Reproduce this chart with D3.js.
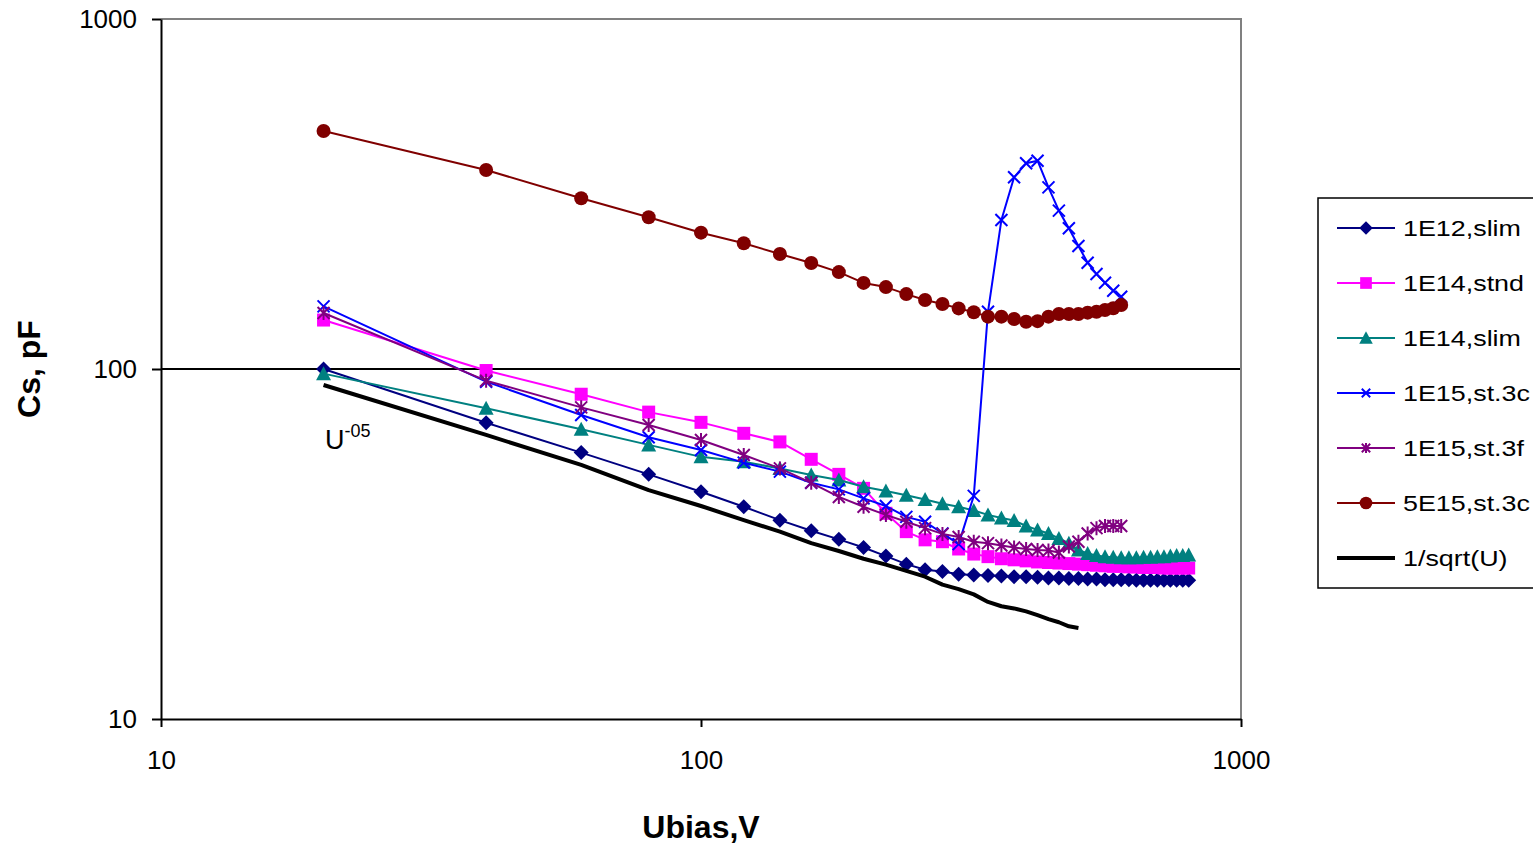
<!DOCTYPE html>
<html>
<head>
<meta charset="utf-8">
<script src="https://cdn.jsdelivr.net/npm/d3@7"></script>
<style>
  body { margin: 0; background: #fff; }
  svg { display: block; font-family: "Liberation Sans", Arial, sans-serif; }
</style>
</head>
<body>
<svg id="chart" width="1533" height="845"></svg>
<script>
// bias voltages, 20 V steps
const uLong = [20, 40, 60, 80, 100, 120, 140, 160, 180, 200, 220, 240, 260, 280, 300, 320, 340, 360, 380, 400,
               420, 440, 460, 480, 500, 520, 540, 560, 580, 600, 620, 640, 660, 680, 700, 720, 740, 760, 780, 800]
const uMid  = [20, 40, 60, 80, 100, 120, 140, 160, 180, 200, 220, 240, 260, 280, 300, 320, 340, 360, 380, 400,
               420, 440, 460, 480, 500, 520, 540, 560, 580, 600]
const uShort = [20, 40, 60, 80, 100, 120, 140, 160, 180, 200, 220, 240, 260, 280, 300, 320, 340, 360, 380, 400,
                420, 440, 460, 480, 500]

const cs1E12slim = [100, 70.2, 57.7, 50.0, 44.6, 40.4, 37.0, 34.5, 32.6, 30.9, 29.2, 27.7, 26.7, 26.4, 25.9, 25.8, 25.7, 25.6, 25.5, 25.5,
                    25.4, 25.3, 25.3, 25.2, 25.2, 25.1, 25.1, 25.0, 25.0, 25.0, 25.0, 24.9, 24.9, 24.9, 24.9, 24.9, 24.9, 24.9, 24.9, 24.9]
const cs1E14stnd = [138, 99, 84.7, 75.3, 70.4, 65.5, 61.9, 55.2, 50.0, 45.6, 38.7, 34.3, 32.5, 32.1, 30.6, 29.6, 29.1, 28.7, 28.5, 28.3,
                    28.1, 28.0, 27.9, 27.8, 27.7, 27.6, 27.5, 27.4, 27.3, 27.3, 27.2, 27.2, 27.1, 27.1, 27.1, 27.0, 27.0, 27.0, 27.0, 27.0]
const cs1E14slim = [97, 77.2, 67.3, 60.7, 56.1, 54.3, 52.0, 49.8, 48.2, 46.1, 44.8, 43.6, 42.4, 41.2, 40.4, 39.4, 38.3, 37.5, 36.9, 35.6,
                    34.7, 33.9, 32.8, 31.8, 30.4, 29.7, 29.3, 29.1, 29.0, 28.9, 28.9, 28.9, 29.0, 29.0, 29.1, 29.1, 29.2, 29.3, 29.3, 29.4]
const cs1E15st3c = [151, 92, 73.9, 63.8, 58.7, 54.0, 50.9, 47.3, 45.3, 42.7, 40.6, 37.8, 36.6, 33.9, 31.6, 43.4, 145.8, 266.6, 352.9, 387,
                    393.7, 330.4, 283.4, 252.3, 224.6, 201.2, 186.8, 176.4, 167.4, 160.9]
const cs1E15st3f = [144.5, 92.6, 77.7, 69.2, 62.7, 56.8, 52.0, 47.3, 43.1, 40.4, 38.3, 36.6, 35.1, 33.8, 33.1, 32.1, 31.8, 31.3, 30.9, 30.6,
                    30.4, 30.3, 29.9, 31.1, 32.1, 33.9, 35.1, 35.6, 35.6, 35.6]
const cs5E15st3c = [478.6, 370.4, 307.4, 271.3, 245.2, 228.6, 213.1, 200.9, 189.2, 176.2, 171.4, 163.7, 157.4, 153.4, 149.0, 145.2, 141.1, 141.1, 139.0, 136.4,
                    137.0, 141.1, 143.6, 143.6, 143.6, 144.9, 145.8, 147.4, 149.1, 152.4]
const csInvSqrt  = [90, 64.8, 53.2, 45.1, 40.6, 37.0, 34.3, 31.8, 30.2, 28.7, 27.6, 26.5, 25.5, 24.2, 23.5, 22.7, 21.6, 21.0, 20.7, 20.3,
                    19.8, 19.3, 18.9, 18.4, 18.2]

const seriesNames = ['1E12,slim', '1E14,stnd', '1E14,slim', '1E15,st.3c', '1E15,st.3f', '5E15,st.3c', '1/sqrt(U)']
const axisTicks = [10, 100, 1000]

const series = [
    { name: seriesNames[0], u: uLong,  cs: cs1E12slim, color: '#000080', mark: 'diamond',  width: 2 },
    { name: seriesNames[1], u: uLong,  cs: cs1E14stnd, color: '#ff00ff', mark: 'square',   width: 2 },
    { name: seriesNames[2], u: uLong,  cs: cs1E14slim, color: '#008080', mark: 'triangle', width: 2 },
    { name: seriesNames[3], u: uMid,   cs: cs1E15st3c, color: '#0000ff', mark: 'x',        width: 2 },
    { name: seriesNames[4], u: uMid,   cs: cs1E15st3f, color: '#800080', mark: 'star',     width: 2 },
    { name: seriesNames[5], u: uMid,   cs: cs5E15st3c, color: '#800000', mark: 'circle',   width: 2 },
    { name: seriesNames[6], u: uShort, cs: csInvSqrt,  color: '#000000', mark: null,       width: 4 }
]

const plotL = 161, plotR = 1241, plotT = 19, plotB = 719

const svg = d3.select('#chart')

const x = d3.scaleLog().domain([10, 1000]).range([plotL, plotR])
const y = d3.scaleLog().domain([10, 1000]).range([plotB, plotT])

// marker paths, s = scale
const markPath = (type, s) => {
    if (type == 'diamond') return `M0,${-7.5*s}L${7.5*s},0L0,${7.5*s}L${-7.5*s},0Z`
    if (type == 'square') return `M${-6.5*s},${-6.5*s}h${13*s}v${13*s}h${-13*s}Z`
    if (type == 'triangle') return `M0,${-7.5*s}L${7.5*s},${6.5*s}L${-7.5*s},${6.5*s}Z`
    if (type == 'x') return `M${-6*s},${-6*s}L${6*s},${6*s}M${-6*s},${6*s}L${6*s},${-6*s}`
    if (type == 'star') return `M${-6*s},${-6*s}L${6*s},${6*s}M${-6*s},${6*s}L${6*s},${-6*s}M0,${-7*s}L0,${7*s}`
    return null
}

const drawMark = (g, d, s) => {
    if (d.mark == 'circle') {
        return g.append('circle').attr('r', 7 * s).attr('fill', d.color)
    }
    let p = g.append('path').attr('d', markPath(d.mark, s))
    if (d.mark == 'x' || d.mark == 'star') p.attr('fill', 'none').attr('stroke', d.color).attr('stroke-width', 2)
    else p.attr('fill', d.color)
    return p
}

// gridline at 100
svg.append('line')
    .attr('x1', plotL).attr('x2', plotR)
    .attr('y1', y(100)).attr('y2', y(100))
    .attr('stroke', '#000').attr('stroke-width', 2)

// plot border top / right
svg.append('path')
    .attr('d', `M${plotL},${plotT}H${plotR}V${plotB}`)
    .attr('fill', 'none').attr('stroke', '#808080').attr('stroke-width', 2)

// axes
let xAxis = svg.append('g')
    .attr('transform', `translate(0,${plotB})`)
    .call(d3.axisBottom(x).tickValues(axisTicks).tickFormat(d3.format('d')).tickSize(8).tickSizeOuter(0).tickPadding(24))
let yAxis = svg.append('g')
    .attr('transform', `translate(${plotL},0)`)
    .call(d3.axisLeft(y).tickValues(axisTicks).tickFormat(d3.format('d')).tickSize(9).tickSizeOuter(0).tickPadding(15))

for (let a of [xAxis, yAxis]) {
    a.select('.domain').attr('stroke', '#000').attr('stroke-width', 2)
    a.selectAll('.tick line').attr('stroke', '#000').attr('stroke-width', 2)
    a.selectAll('.tick text')
        .attr('fill', '#000')
        .style('font-family', '"Liberation Sans", Arial, sans-serif')
        .style('font-size', '26px')
}

// series
const line = d3.line().x(d => x(d[0])).y(d => y(d[1]))

let sg = svg.append('g').selectAll('g')
    .data(series)
    .enter()
    .append('g')

sg.append('path')
    .attr('d', d => line(d.u.map((u, i) => [u, d.cs[i]])))
    .attr('fill', 'none')
    .attr('stroke', d => d.color)
    .attr('stroke-width', d => d.width)
    .attr('stroke-linejoin', 'round')

sg.each(function(d) {
    if (!d.mark) return
    let g = d3.select(this)
    d.u.forEach((u, i) => {
        let m = g.append('g').attr('transform', `translate(${x(u)},${y(d.cs[i])})`)
        drawMark(m, d, 1)
    })
})

// annotation U^-0.5
let ann = svg.append('text')
    .attr('x', 325).attr('y', 449)
    .style('font-size', '27px')
    .attr('fill', '#000')
ann.append('tspan').text('U')
ann.append('tspan').attr('dy', -12).style('font-size', '18px').text('-05')

// axis titles
svg.append('text')
    .attr('x', (plotL + plotR) / 2).attr('y', 838)
    .attr('text-anchor', 'middle')
    .style('font-size', '32px').style('font-weight', 'bold')
    .text('Ubias,V')

svg.append('text')
    .attr('transform', `translate(40,${(plotT + plotB) / 2}) rotate(-90)`)
    .attr('text-anchor', 'middle')
    .style('font-size', '32px').style('font-weight', 'bold')
    .text('Cs, pF')

// legend
let lg = svg.append('g')
lg.append('rect')
    .attr('x', 1318).attr('y', 198)
    .attr('width', 240).attr('height', 390)
    .attr('fill', '#fff').attr('stroke', '#000').attr('stroke-width', 1.5)

let li = lg.selectAll('g.item')
    .data(series)
    .enter()
    .append('g')
    .attr('class', 'item')
    .attr('transform', (d, i) => `translate(0,${228 + i * 55})`)

li.append('line')
    .attr('x1', 1337).attr('x2', 1395)
    .attr('stroke', d => d.color)
    .attr('stroke-width', d => d.width)

li.each(function(d) {
    if (!d.mark) return
    let m = d3.select(this).append('g').attr('transform', 'translate(1366,0)')
    let s = (d.mark == 'x' || d.mark == 'star') ? 0.7 : 0.9
    drawMark(m, d, s)
})

li.append('text')
    .attr('transform', 'translate(1403,7.5) scale(1.25,1)')
    .style('font-size', '21.5px')
    .attr('fill', '#000')
    .text(d => d.name)
</script>
</body>
</html>
